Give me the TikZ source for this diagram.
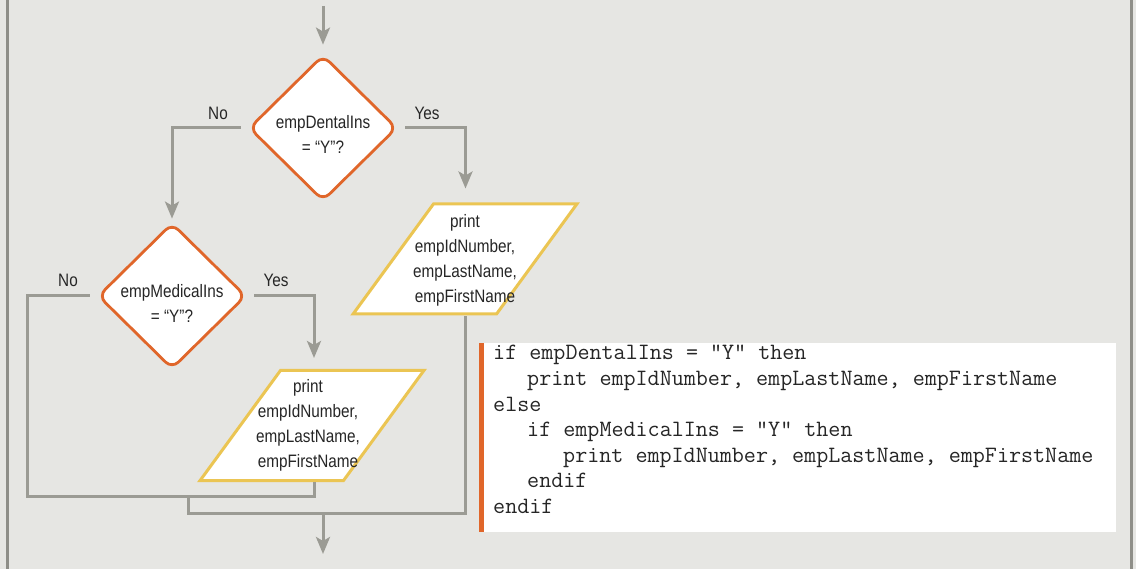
\documentclass[tikz,border=0pt]{standalone}
\usepackage{fontspec}
\usetikzlibrary{shapes.geometric,arrows.meta,calc}
\newfontfamily\flowfont[FakeStretch=0.85]{Liberation Sans}
\definecolor{bg}{HTML}{E6E6E3}
\definecolor{conn}{HTML}{9B9B94}
\definecolor{framec}{HTML}{8E8E88}
\definecolor{dorange}{HTML}{E0662A}
\definecolor{pyellow}{HTML}{EBC553}
\tikzset{
  decision/.style={diamond, draw=dorange, line width=2.8pt, fill=white, rounded corners=9pt,
    inner sep=0pt, minimum width=148pt, minimum height=146pt},
  dtext/.style={align=center, inner sep=0pt, text=black!85,
    font=\flowfont\fontsize{18}{25}\selectfont},
  iobox/.style={trapezium, trapezium left angle=63, trapezium right angle=117,
    trapezium stretches=true, draw=pyellow, line width=3pt, fill=white, inner sep=4pt,
    minimum width=224pt, minimum height=110pt},
  conn/.style={draw=conn, line width=3pt},
  arr/.style={conn, -{Stealth[length=17pt,width=14pt,inset=4pt]}},
  lab/.style={font=\flowfont\fontsize{18}{20}\selectfont, inner sep=0pt, text=black!85},
  codeline/.style={font=\ttfamily\addfontfeature{FakeBold=0.6}\fontsize{23.4}{25}\selectfont,
    anchor=base west, inner sep=0pt, text=black!85}
}
\begin{document}
\begin{tikzpicture}[x=1pt,y=-1pt]
\useasboundingbox (0,0) rectangle (1136,569);
\fill[bg] (0,0) rectangle (1136,569);
\draw[framec, line width=2.5pt] (7.5,0) -- (7.5,569);
\draw[framec, line width=2.5pt] (1131.5,0) -- (1131.5,569);

% shapes
\node[decision] (d1) at (323,128) {};
\node[decision] (d2) at (172,296) {};
\node[iobox] (p1) at (465,259) {\strut};
\node[iobox] (p2) at (312,425.5) {\strut};

% texts in shapes
\node[dtext] (d1t) at (323,134) {empDentalIns\\= “Y”?};
\node[dtext] (d2t) at (172,303) {empMedicalIns\\= “Y”?};
\node[dtext] (p1t) at (465,260) {print\\empIdNumber,\\empLastName,\\empFirstName};
\node[dtext] (p2t) at (308,425.5) {print\\empIdNumber,\\empLastName,\\empFirstName};

\coordinate (top) at (323,6);
\coordinate (j1) at (27,496);
\coordinate (j2) at (188,496);
\coordinate (j3) at (323,513);
\coordinate (out) at (323,554);

% labels
\node[lab] (no1) at (218,113) {No};
\node[lab] (yes1) at (427,113) {Yes};
\node[lab] (no2) at (68,280) {No};
\node[lab] (yes2) at (276,280) {Yes};

% connectors
\draw[arr] (top) -- ($(d1.north)+(0,-9)$);
\draw[arr, shorten <=7pt] (d1.west) -| ($(d2.north)+(0,-3)$);
\draw[arr, shorten <=7pt] (d1.east) -| ($(p1.north)+(0.5,-14)$);
\draw[arr, shorten <=7pt] (d2.east) -| ($(p2.north)+(2,-11)$);
\draw[conn, shorten <=7pt] (d2.west) -| (j1) -| ($(p2.south)+(2,0)$);
\draw[conn] (j2) |- (j3) -| (p1.south);
\draw[arr] (j3) -- (out);

% code
\fill[white] (479,343) rectangle (1116,531.5);
\fill[dorange] (479,343) rectangle (484,531.5);
\node[codeline] (c1) at (493,360) {if empDentalIns = "Y" then};
\node[codeline] (c2) at (527,385.5) {print empIdNumber, empLastName, empFirstName};
\node[codeline] (c3) at (493,411) {else};
\node[codeline] (c4) at (527,436.5) {if empMedicalIns = "Y" then};
\node[codeline] (c5) at (563,462) {print empIdNumber, empLastName, empFirstName};
\node[codeline] (c6) at (527,487.5) {endif};
\node[codeline] (c7) at (493,513) {endif};
\end{tikzpicture}
\end{document}
